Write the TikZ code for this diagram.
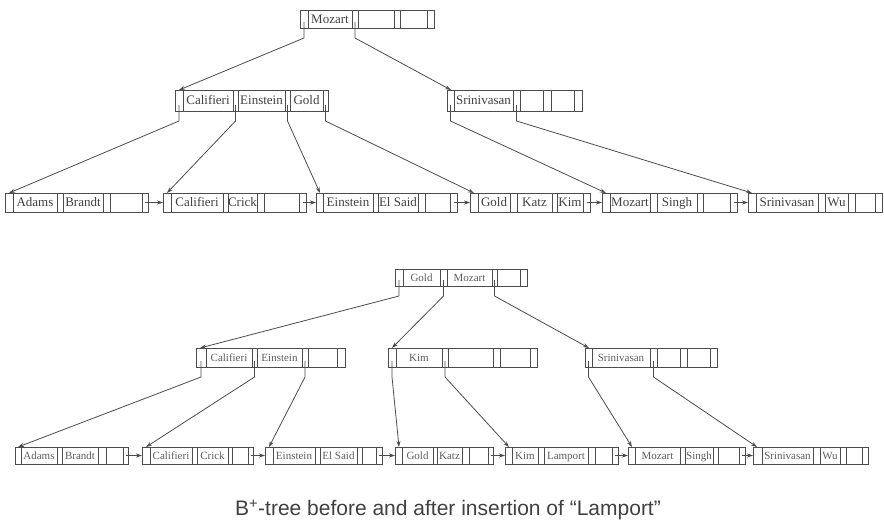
\documentclass[tikz,border=0pt]{standalone}
\usepackage{fontspec}
\setmainfont{Liberation Serif}
\newfontfamily\capfont{Liberation Sans}
\usetikzlibrary{arrows.meta}
\definecolor{ink}{gray}{0.3}
\definecolor{txt}{gray}{0.25}
\tikzset{
 bpbox/.style={draw=ink, line width=0.9pt, inner sep=0pt, outer sep=0pt, anchor=north west},
 cellline/.style={draw=ink, line width=0.8pt},
 topkey/.style={font=\fontsize{13}{15}\selectfont, text=txt, inner sep=0pt, text height=1.45ex, text depth=0.45ex, yshift=-1.8pt},
 botkey/.style={font=\fontsize{11}{13}\selectfont, text=txt!85, inner sep=0pt, text height=1.45ex, text depth=0.45ex, yshift=-1.5pt},
 ptr/.style={draw=ink, line width=0.8pt, -{Stealth[length=6pt,width=4pt]}},
 captxt/.style={font=\capfont\fontsize{21}{24}\selectfont, text=txt, inner sep=0pt},
}
\newcommand{\bpnode}[6]{% name,x1,x2,ytop,ybot,dividers
 \node[bpbox, minimum width={(#3-#2)*1pt}, minimum height={(#5-#4)*1pt}] (#1) at (#2,#4) {};
 \foreach \dv in {#6} {\draw[cellline] (\dv,#4) -- (\dv,#5);}
}
\newcommand{\bpkey}[6]{% style,name,xa,xb,y,text
 \node[#1] (#2) at ({(#3+#4)/2},#5) {#6};
}
\begin{document}
\begin{tikzpicture}[x=1pt,y=-1pt]
\useasboundingbox (0,0) rectangle (884,530);

% ---------------- top tree ----------------
\bpnode{R1}{300}{434}{10}{28}{308,352,358,394,400,427}
\bpkey{topkey}{R1k1}{308}{352}{19}{Mozart}

\bpnode{I1}{175}{328}{90}{111}{183,233,238,285,290,323}
\bpkey{topkey}{I1k1}{183}{233}{100.5}{Califieri}
\bpkey{topkey}{I1k2}{238}{285}{100.5}{Einstein}
\bpkey{topkey}{I1k3}{290}{323}{100.5}{Gold}

\bpnode{I2}{447}{582}{90}{111}{454,513,520,543,551,574}
\bpkey{topkey}{I2k1}{454}{513}{100.5}{Srinivasan}

\bpnode{L1}{5}{148}{193}{212}{13,57,63,103,110,142}
\bpkey{topkey}{L1k1}{13}{57}{202.5}{Adams}
\bpkey{topkey}{L1k2}{63}{103}{202.5}{Brandt}

\bpnode{L2}{163}{306}{193}{212}{171,223,228,257,264,299}
\bpkey{topkey}{L2k1}{171}{223}{202.5}{Califieri}
\bpkey{topkey}{L2k2}{228}{257}{202.5}{Crick}

\bpnode{L3}{316}{457}{193}{212}{323,373,378,418,425,450}
\bpkey{topkey}{L3k1}{323}{373}{202.5}{Einstein}
\bpkey{topkey}{L3k2}{378}{418}{202.5}{El Said}

\bpnode{L4}{470}{590}{193}{212}{478,510,517,552,557,583}
\bpkey{topkey}{L4k1}{478}{510}{202.5}{Gold}
\bpkey{topkey}{L4k2}{517}{552}{202.5}{Katz}
\bpkey{topkey}{L4k3}{557}{583}{202.5}{Kim}

\bpnode{L5}{602}{737}{193}{212}{610,650,657,697,703,730}
\bpkey{topkey}{L5k1}{610}{650}{202.5}{Mozart}
\bpkey{topkey}{L5k2}{657}{697}{202.5}{Singh}

\bpnode{L6}{748}{882}{193}{212}{756,818,825,848,855,875}
\bpkey{topkey}{L6k1}{756}{818}{202.5}{Srinivasan}
\bpkey{topkey}{L6k2}{825}{848}{202.5}{Wu}

% pointer origins and targets (top)
\coordinate (R1p1) at (304,22);  \coordinate (R1p2) at (355,22);
\coordinate (I1p1) at (179,105); \coordinate (I1p2) at (235.5,105);
\coordinate (I1p3) at (287.5,105); \coordinate (I1p4) at (325.5,105);
\coordinate (I2p1) at (450.5,105); \coordinate (I2p2) at (516.5,105);
\coordinate (I1in) at (179,90);  \coordinate (I2in) at (451,90);
\coordinate (L1in) at (9,193);   \coordinate (L2in) at (167,193);
\coordinate (L3in) at (320,193); \coordinate (L4in) at (474,193);
\coordinate (L5in) at (606,193); \coordinate (L6in) at (752,193);
\coordinate (L1n) at (145,202.5); \coordinate (L2n) at (302.5,202.5);
\coordinate (L3n) at (453.5,202.5); \coordinate (L4n) at (586.5,202.5);
\coordinate (L5n) at (733.5,202.5);

\draw[ptr] (R1p1) -- ++(0,16) -- (I1in);
\draw[ptr] (R1p2) -- ++(0,16) -- (I2in);
\draw[ptr] (I1p1) -- ++(0,16) -- (L1in);
\draw[ptr] (I1p2) -- ++(0,16) -- (L2in);
\draw[ptr] (I1p3) -- ++(0,16) -- (L3in);
\draw[ptr] (I1p4) -- ++(0,16) -- (L4in);
\draw[ptr] (I2p1) -- ++(0,16) -- (L5in);
\draw[ptr] (I2p2) -- ++(0,16) -- (L6in);
\draw[ptr] (L1n) -- (L2.west);
\draw[ptr] (L2n) -- (L3.west);
\draw[ptr] (L3n) -- (L4.west);
\draw[ptr] (L4n) -- (L5.west);
\draw[ptr] (L5n) -- (L6.west);

% ---------------- bottom tree ----------------
\bpnode{R2}{395}{527}{269}{286}{403,440,447,492,497,520}
\bpkey{botkey}{R2k1}{403}{440}{277.5}{Gold}
\bpkey{botkey}{R2k2}{447}{492}{277.5}{Mozart}

\bpnode{I3}{196}{345}{348}{367}{206,252,257,302,308,337}
\bpkey{botkey}{I3k1}{206}{252}{357.5}{Califieri}
\bpkey{botkey}{I3k2}{257}{302}{357.5}{Einstein}

\bpnode{I4}{388}{537}{348}{367}{396,442,448,493,500,530}
\bpkey{botkey}{I4k1}{396}{442}{357.5}{Kim}

\bpnode{I5}{585}{717}{348}{367}{592,650,657,680,687,710}
\bpkey{botkey}{I5k1}{592}{650}{357.5}{Srinivasan}

\bpnode{M1}{15}{128}{447}{464}{21,57,62,98,106,123}
\bpkey{botkey}{M1k1}{21}{57}{455.5}{Adams}
\bpkey{botkey}{M1k2}{62}{98}{455.5}{Brandt}

\bpnode{M2}{142}{253}{447}{464}{150,192,197,228,232,248}
\bpkey{botkey}{M2k1}{150}{192}{455.5}{Califieri}
\bpkey{botkey}{M2k2}{197}{228}{455.5}{Crick}

\bpnode{M3}{265}{382}{447}{464}{273,315,320,357,362,376}
\bpkey{botkey}{M3k1}{273}{315}{455.5}{Einstein}
\bpkey{botkey}{M3k2}{320}{357}{455.5}{El Said}

\bpnode{M4}{395}{493}{447}{464}{402,433,437,462,469,488}
\bpkey{botkey}{M4k1}{402}{433}{455.5}{Gold}
\bpkey{botkey}{M4k2}{437}{462}{455.5}{Katz}

\bpnode{M5}{505}{618}{447}{464}{512,538,544,588,595,612}
\bpkey{botkey}{M5k1}{512}{538}{455.5}{Kim}
\bpkey{botkey}{M5k2}{544}{588}{455.5}{Lamport}

\bpnode{M6}{628}{745}{447}{464}{635,680,685,713,718,739}
\bpkey{botkey}{M6k1}{635}{680}{455.5}{Mozart}
\bpkey{botkey}{M6k2}{685}{713}{455.5}{Singh}

\bpnode{M7}{753}{868}{447}{464}{762,813,820,840,846,862}
\bpkey{botkey}{M7k1}{762}{813}{455.5}{Srinivasan}
\bpkey{botkey}{M7k2}{820}{840}{455.5}{Wu}

% pointer origins and targets (bottom)
\coordinate (R2p1) at (399,280); \coordinate (R2p2) at (443.5,280);
\coordinate (R2p3) at (494.5,280);
\coordinate (I3p1) at (201,361); \coordinate (I3p2) at (254.5,361);
\coordinate (I3p3) at (305,361);
\coordinate (I4p1) at (392,361); \coordinate (I4p2) at (445,361);
\coordinate (I5p1) at (588.5,361); \coordinate (I5p2) at (653.5,361);
\coordinate (I3in) at (200,348); \coordinate (I4in) at (392,348);
\coordinate (I5in) at (589,348);
\coordinate (M1in) at (18,447);  \coordinate (M2in) at (146,447);
\coordinate (M3in) at (269,447); \coordinate (M4in) at (399,447);
\coordinate (M5in) at (509,447); \coordinate (M6in) at (632,447);
\coordinate (M7in) at (757,447);
\coordinate (M1n) at (125.5,455.5); \coordinate (M2n) at (250.5,455.5);
\coordinate (M3n) at (379,455.5);   \coordinate (M4n) at (490.5,455.5);
\coordinate (M5n) at (615,455.5);   \coordinate (M6n) at (742,455.5);

\draw[ptr] (R2p1) -- ++(0,16) -- (I3in);
\draw[ptr] (R2p2) -- ++(0,16) -- (I4in);
\draw[ptr] (R2p3) -- ++(0,16) -- (I5in);
\draw[ptr] (I3p1) -- ++(0,16) -- (M1in);
\draw[ptr] (I3p2) -- ++(0,16) -- (M2in);
\draw[ptr] (I3p3) -- ++(0,16) -- (M3in);
\draw[ptr] (I4p1) -- ++(0,16) -- (M4in);
\draw[ptr] (I4p2) -- ++(0,16) -- (M5in);
\draw[ptr] (I5p1) -- ++(0,16) -- (M6in);
\draw[ptr] (I5p2) -- ++(0,16) -- (M7in);
\draw[ptr] (M1n) -- (M2.west);
\draw[ptr] (M2n) -- (M3.west);
\draw[ptr] (M3n) -- (M4.west);
\draw[ptr] (M4n) -- (M5.west);
\draw[ptr] (M5n) -- (M6.west);
\draw[ptr] (M6n) -- (M7.west);

% caption
\node[captxt] (cap) at (448,510) {B\textsuperscript{+}-tree before and after insertion of “Lamport”};
\end{tikzpicture}
\end{document}
